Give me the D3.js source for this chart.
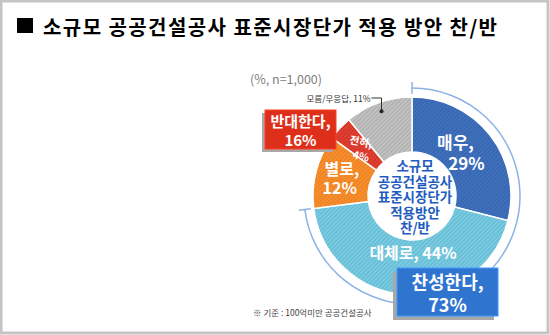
<!DOCTYPE html>
<html>
<head>
<meta charset="utf-8">
<script src="https://cdn.jsdelivr.net/npm/d3@7/dist/d3.min.js"></script>
<style>
  html, body { margin: 0; padding: 0; background: #fff; }
  svg { display: block; }
  text { font-family: "Noto Sans CJK KR", "Noto Sans", sans-serif; }
</style>
</head>
<body>
<svg id="chart" width="550" height="335"></svg>
<script>
// ---- data ----
const categories = ["매우", "대체로", "별로", "전혀", "모름/무응답"];
const values = [29, 44, 12, 4, 11];
const colors = ["#3A68B0", "#6DBDD3", "#EE8427", "#D2392D", "#B3B3B3"];
const agreeIdx = [0, 1];      // 찬성
const disagreeIdx = [2, 3];   // 반대
const groupLabels = ["찬성한다", "반대한다"];
const titleText = "소규모 공공건설공사 표준시장단가 적용 방안 찬/반";
const centerLines = ["소규모", "공공건설공사", "표준시장단가", "적용방안", "찬/반"];
const sampleNote = "(%, n=1,000)";
const footNote = "※ 기준 : 100억미만 공공건설공사";

const W = 550, H = 335;
const svg = d3.select("#chart");

// frame
svg.append("rect").attr("x", 1).attr("y", 1).attr("width", W - 3).attr("height", H - 3)
  .attr("fill", "#fff").attr("stroke", "#C4C4C4").attr("stroke-width", 3);

// title
svg.append("rect").attr("x", 17).attr("y", 18).attr("width", 16).attr("height", 15).attr("fill", "#000");
svg.append("text").attr("x", 43).attr("y", 34.5)
  .attr("font-size", 20).attr("font-weight", 700).attr("fill", "#000")
  .attr("textLength", 454).attr("lengthAdjust", "spacing")
  .text(titleText);

// subtitle
svg.append("text").attr("x", 250).attr("y", 84)
  .attr("font-size", 12.5).attr("fill", "#808080").text(sampleNote);

// geometry
const cx = 412, cy = 196, R = 99, r0 = 44;
const g = svg.append("g").attr("transform", `translate(${cx},${cy})`);

// hatch patterns
const defs = svg.append("defs");
colors.forEach((c, i) => {
  const p = defs.append("pattern").attr("id", "hatch" + i)
    .attr("patternUnits", "userSpaceOnUse").attr("width", 3).attr("height", 3)
    .attr("patternTransform", "rotate(45)");
  p.append("rect").attr("width", 3).attr("height", 3).attr("fill", c);
  p.append("rect").attr("width", 1).attr("height", 3)
    .attr("fill", d3.color(c).brighter(0.45).formatHex()).attr("opacity", 0.7);
});

const pie = d3.pie().sort(null).value(d => d.v).startAngle(0).endAngle(2 * Math.PI);
const data = categories.map((c, i) => ({ c, v: values[i], i }));
const arcs = pie(data);
const total = d3.sum(values);

// bracket arc for 찬성
const agreeSum = d3.sum(agreeIdx, i => values[i]);
const disagreeSum = d3.sum(disagreeIdx, i => values[i]);
const bracketEnd = 2 * Math.PI * agreeSum / total;
const rb = 108;
g.append("path")
  .attr("d", d3.arc().innerRadius(rb).outerRadius(rb).startAngle(0).endAngle(bracketEnd)())
  .attr("fill", "none").attr("stroke", "#8DB3E6").attr("stroke-width", 1.5);
[0, bracketEnd].forEach(a => {
  const s = Math.sin(a), c = -Math.cos(a);
  g.append("line")
    .attr("x1", (rb - 6) * s).attr("y1", (rb - 6) * c)
    .attr("x2", (rb + 6) * s).attr("y2", (rb + 6) * c)
    .attr("stroke", "#8DB3E6").attr("stroke-width", 1.5);
});

// slices
const arcGen = d3.arc().innerRadius(r0).outerRadius(R);
g.selectAll("path.slice").data(arcs).join("path").attr("class", "slice")
  .attr("d", arcGen)
  .attr("fill", d => `url(#hatch${d.data.i})`)
  .attr("stroke", "#fff").attr("stroke-width", 1.5);

// multi-line text helper: one <text> with tspans
function multi(parent, x, y, lines, opts) {
  const t = parent.append("text").attr("text-anchor", "middle")
    .attr("font-size", opts.fs).attr("font-weight", opts.fw || 700)
    .attr("fill", opts.fill || "#fff");
  lines.forEach((s, k) => {
    t.append("tspan").attr("x", x + (opts.dx ? opts.dx[k] : 0))
      .attr("y", y + k * opts.lh).attr("dominant-baseline", "central").text(s);
  });
  return t;
}

const labArc = d3.arc().innerRadius(r0).outerRadius(R);
function cen(i) { return labArc.centroid(arcs[i]); }

// 매우
{
  const [x, y] = cen(0);
  multi(g, x, y - 11, [categories[0] + ",", values[0] + "%"], { fs: 17, lh: 21, dx: [-13, -2] });
}
// 대체로
{
  const [x, y] = cen(1);
  g.append("text").attr("x", x + 5.5).attr("y", y - 15.5).attr("text-anchor", "middle")
    .attr("dominant-baseline", "central").attr("font-size", 16).attr("font-weight", 700)
    .attr("fill", "#fff").text(categories[1] + ", " + values[1] + "%");
}
// 별로
{
  const [x, y] = cen(2);
  multi(g, x, y - 10, [categories[2] + ",", values[2] + "%"], { fs: 16, lh: 19, dx: [-1, -3] });
}
// 전혀
{
  const [x, y] = cen(3);
  const t = g.append("g").attr("transform", `translate(${x},${y}) rotate(12)`);
  multi(t, 0, -6, [categories[3] + ",", values[3] + "%"], { fs: 10.5, lh: 14, dx: [0, 3] });
}
// 모름/무응답 leader
{
  const a = (arcs[4].startAngle + arcs[4].endAngle) / 2;
  const rd = 90;
  const dx = rd * Math.sin(a), dy = -rd * Math.cos(a);
  const ty = -98;
  g.append("path").attr("d", `M${dx},${dy} V${ty} H${dx - 10}`)
    .attr("fill", "none").attr("stroke", "#333").attr("stroke-width", 1);
  g.append("circle").attr("cx", dx).attr("cy", dy).attr("r", 2).attr("fill", "#222");
  g.append("text").attr("x", dx - 11).attr("y", ty).attr("text-anchor", "end")
    .attr("dominant-baseline", "central").attr("font-size", 8.5).attr("fill", "#333")
    .text(categories[4] + ", " + values[4] + "%");
}

// center text
multi(g, 3, -31, centerLines, { fs: 13.5, lh: 15.6, fill: "#1F5CC0" });

// group boxes
function box(x, y, w, h, fill, sdx, sdy, lines, fs, lh) {
  svg.append("rect").attr("x", x + sdx).attr("y", y + sdy).attr("width", w).attr("height", h)
    .attr("fill", "#A8A8A8");
  svg.append("rect").attr("x", x).attr("y", y).attr("width", w).attr("height", h)
    .attr("fill", fill).attr("stroke", d3.color(fill).brighter(0.8).formatHex()).attr("stroke-width", 1);
  multi(svg, x + w / 2, y + h / 2 - 0.5 * lh, lines, { fs, lh });
}
box(265, 110, 71, 39, "#DE2F1B", -3, 3, [groupLabels[1] + ",", disagreeSum + "%"], 15, 19);
box(397, 268, 101, 48, "#2F74CF", -4, 4, [groupLabels[0] + ",", agreeSum + "%"], 18, 23);

// footnote
svg.append("text").attr("x", 253).attr("y", 316)
  .attr("font-size", 8.5).attr("fill", "#444").text(footNote);
</script>
</body>
</html>
